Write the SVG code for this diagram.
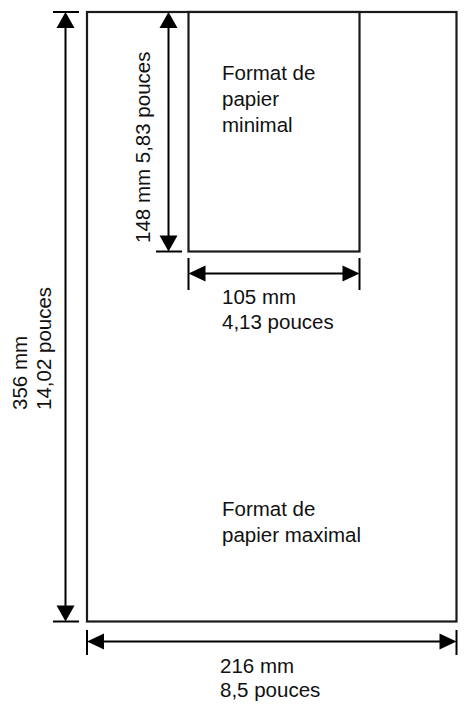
<svg xmlns="http://www.w3.org/2000/svg" width="467" height="707" viewBox="0 0 467 707">
<style>
.ln{stroke:#000;stroke-width:2;fill:none}
.box{stroke:#1a1a1a;stroke-width:2.2;fill:#fff}
.ah{fill:#000;stroke:none}
text{font-family:"Liberation Sans",Arial,sans-serif;font-size:20.5px;fill:#111}
</style>
<rect width="467" height="707" fill="#fff"/>
<g id="max-paper">
<rect class="box" x="87" y="12" width="369.5" height="609.5"/>
<text x="222" y="516">Format de</text>
<text x="222" y="542">papier maximal</text>
</g>
<g id="min-paper">
<rect class="box" x="188.5" y="12" width="171" height="239.5"/>
<text x="222" y="80">Format de</text>
<text x="222" y="106">papier</text>
<text x="222" y="132">minimal</text>
</g>
<g id="connectors">
<!-- big vertical dimension -->
<line class="ln" x1="53" y1="12" x2="79" y2="12"/>
<line class="ln" x1="53" y1="621.5" x2="79" y2="621.5"/>
<line class="ln" x1="65.5" y1="26" x2="65.5" y2="607"/>
<polygon class="ah" points="65.5,12 56.5,28 74.5,28"/>
<polygon class="ah" points="65.5,621.5 56.5,605.5 74.5,605.5"/>
<!-- small vertical dimension -->
<line class="ln" x1="156" y1="251.5" x2="182" y2="251.5"/>
<line class="ln" x1="168.5" y1="26" x2="168.5" y2="237"/>
<polygon class="ah" points="168.5,12 159.5,28 177.5,28"/>
<polygon class="ah" points="168.5,251.5 159.5,235.5 177.5,235.5"/>
<!-- small horizontal dimension -->
<line class="ln" x1="188.5" y1="258" x2="188.5" y2="290"/>
<line class="ln" x1="359.5" y1="258" x2="359.5" y2="290"/>
<line class="ln" x1="202" y1="273.5" x2="346" y2="273.5"/>
<polygon class="ah" points="188.5,273.5 205.5,265.5 205.5,281.5"/>
<polygon class="ah" points="359.5,273.5 342.5,265.5 342.5,281.5"/>
<!-- big horizontal dimension -->
<line class="ln" x1="87" y1="630" x2="87" y2="655"/>
<line class="ln" x1="456.5" y1="630" x2="456.5" y2="655"/>
<line class="ln" x1="100" y1="641.5" x2="443" y2="641.5"/>
<polygon class="ah" points="87,641.5 104,633.5 104,649.5"/>
<polygon class="ah" points="456.5,641.5 439.5,633.5 439.5,649.5"/>
</g>
<g id="labels">
<text x="222" y="304">105 mm</text>
<text x="222" y="329">4,13 pouces</text>
<text x="220" y="673">216 mm</text>
<text x="220" y="697">8,5 pouces</text>
<text transform="translate(27,410) rotate(-90)">356 mm</text>
<text transform="translate(51,410) rotate(-90)">14,02 pouces</text>
<text transform="translate(149.5,243) rotate(-90)">148 mm 5,83 pouces</text>
</g>
</svg>
